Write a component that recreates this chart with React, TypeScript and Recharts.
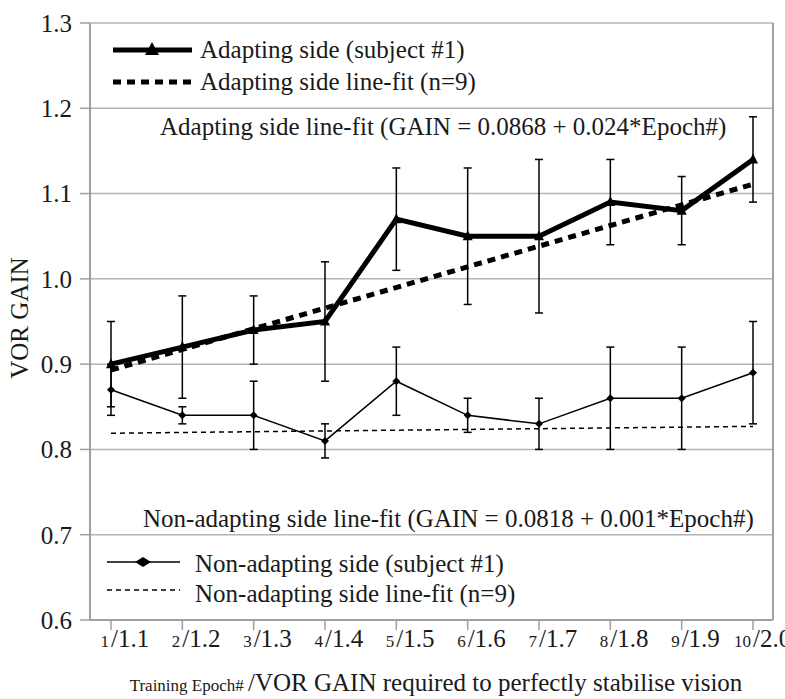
import React from "react";
import { CartesianGrid, ErrorBar, Line, LineChart, XAxis, YAxis } from "recharts";

// training epochs and the VOR gain needed to fully stabilise vision at each one
const epochs = [1, 2, 3, 4, 5, 6, 7, 8, 9, 10];
const requiredGain = ["1.1", "1.2", "1.3", "1.4", "1.5", "1.6", "1.7", "1.8", "1.9", "2.0"];

// subject #1, adapting side (mean gain and +/- error)
const adaptGain = [0.9, 0.92, 0.94, 0.95, 1.07, 1.05, 1.05, 1.09, 1.08, 1.14];
const adaptErr = [0.05, 0.06, 0.04, 0.07, 0.06, 0.08, 0.09, 0.05, 0.04, 0.05];

// subject #1, non-adapting side
const nonGain = [0.87, 0.84, 0.84, 0.81, 0.88, 0.84, 0.83, 0.86, 0.86, 0.89];
const nonErr = [0.03, 0.01, 0.04, 0.02, 0.04, 0.02, 0.03, 0.06, 0.06, 0.06];

// group line-fits (n=9), end points at epoch 1 and 10
const fitEpochs = [1, 10];
const adaptFit = [0.893, 1.111];
const nonFit = [0.819, 0.827];

const yTicks = [0.6, 0.7, 0.8, 0.9, 1.0, 1.1, 1.2, 1.3];

const FONT = '"Liberation Serif", "Times New Roman", serif';
const INK = "#1a1a1a";
const GRID = "#b4b4b4";

const adaptData = epochs.map((e, i) => ({ epoch: e, gain: adaptGain[i], err: adaptErr[i] }));
const nonData = epochs.map((e, i) => ({ epoch: e, gain: nonGain[i], err: nonErr[i] }));
const adaptFitData = fitEpochs.map((e, i) => ({ epoch: e, gain: adaptFit[i] }));
const nonFitData = fitEpochs.map((e, i) => ({ epoch: e, gain: nonFit[i] }));

const TriangleDot = (props: any) => {
  const { cx, cy, index } = props;
  if (cx == null || cy == null) return <g key={index} />;
  return <path key={index} d={`M${cx},${cy - 6} L${cx + 5},${cy + 4} L${cx - 5},${cy + 4} Z`} fill="#000" />;
};

const DiamondDot = (props: any) => {
  const { cx, cy, index } = props;
  if (cx == null || cy == null) return <g key={index} />;
  return <path key={index} d={`M${cx},${cy - 4} L${cx + 4},${cy} L${cx},${cy + 4} L${cx - 4},${cy} Z`} fill="#000" />;
};

const EpochTick = (props: any) => {
  const { x, y, payload } = props;
  const i = epochs.indexOf(payload.value);
  return (
    <g fontFamily={FONT} fill={INK}>
      <text x={x - 2} y={y + 15} textAnchor="end" fontSize={17} fill={INK}>
        {payload.value}
      </text>
      <text x={x} y={y + 15} textAnchor="start" fontSize={25} fill={INK}>
        {"/" + requiredGain[i]}
      </text>
    </g>
  );
};

const Overlay = () => (
  <svg width={785} height={699} style={{ position: "absolute", left: 0, top: 0, pointerEvents: "none" }}>
    <g fontFamily={FONT} fill={INK} fontSize={25}>
      {/* adapting side legend */}
      <line x1={113} y1={50} x2={192} y2={50} stroke="#000" strokeWidth={5} />
      <path d="M152,42 L159,55 L145,55 Z" fill="#000" />
      <text x={200} y={58}>Adapting side (subject #1)</text>
      <line x1={113} y1={82} x2={192} y2={82} stroke="#000" strokeWidth={5} strokeDasharray="8 6" />
      <text x={200} y={90}>Adapting side line-fit (n=9)</text>
      <text x={160} y={135}>Adapting side line-fit (GAIN = 0.0868 + 0.024*Epoch#)</text>

      {/* non-adapting side legend */}
      <text x={143} y={527}>Non-adapting side line-fit (GAIN = 0.0818 + 0.001*Epoch#)</text>
      <line x1={107} y1={562} x2={180} y2={562} stroke="#000" strokeWidth={1.5} />
      <path d="M143,557 L151,562 L143,567 L135,562 Z" fill="#000" />
      <text x={195} y={572}>Non-adapting side (subject #1)</text>
      <line x1={107} y1={590} x2={180} y2={590} stroke="#000" strokeWidth={1.5} strokeDasharray="5 4" />
      <text x={195} y={602}>Non-adapting side line-fit (n=9)</text>

      {/* axis titles */}
      <text x={19} y={318} fontSize={25} textAnchor="middle" transform="rotate(-90 19 318)" dy="0.35em">
        VOR GAIN
      </text>
      <text x={436} y={691} textAnchor="middle">
        <tspan fontSize={17}>Training Epoch# </tspan>
        <tspan>/VOR GAIN required to perfectly stabilise vision</tspan>
      </text>
    </g>
  </svg>
);

export default function App() {
  return (
    <div style={{ position: "absolute", left: 0, top: 0, width: 785, height: 699, background: "#fff" }}>
      <LineChart width={785} height={699} margin={{ top: 23, right: 11, bottom: 0, left: 0 }}>
        <CartesianGrid vertical={false} stroke={GRID} strokeWidth={1.5} />
        <XAxis
          dataKey="epoch"
          type="number"
          domain={[1, 10]}
          ticks={epochs}
          padding={{ left: 21, right: 20 }}
          height={79}
          tickSize={10}
          axisLine={{ stroke: "#a0a0a0", strokeWidth: 2 }}
          tickLine={{ stroke: "#a0a0a0", strokeWidth: 1.5 }}
          tick={<EpochTick />}
          allowDuplicatedCategory={false}
        />
        <YAxis
          type="number"
          domain={[0.6, 1.3]}
          ticks={yTicks}
          width={90}
          tickSize={10}
          tickMargin={8}
          axisLine={{ stroke: "#a0a0a0", strokeWidth: 2 }}
          tickLine={{ stroke: "#a0a0a0", strokeWidth: 1.5 }}
          tickFormatter={(v: number) => v.toFixed(1)}
          tick={{ fontFamily: FONT, fontSize: 25, fill: INK }}
        />
        <YAxis
          yAxisId="frame"
          orientation="right"
          domain={[0, 1]}
          width={1}
          tick={false}
          tickLine={false}
          axisLine={{ stroke: "#a0a0a0", strokeWidth: 2 }}
        />
        <Line
          data={nonFitData}
          dataKey="gain"
          stroke="#000"
          strokeWidth={1.5}
          strokeDasharray="5 4"
          dot={false}
          activeDot={false}
          isAnimationActive={false}
        />
        <Line
          data={nonData}
          dataKey="gain"
          stroke="#000"
          strokeWidth={1.5}
          dot={<DiamondDot />}
          activeDot={false}
          isAnimationActive={false}
        >
          <ErrorBar dataKey="err" direction="y" width={4} stroke="#000" strokeWidth={1.5} isAnimationActive={false} />
        </Line>
        <Line
          data={adaptFitData}
          dataKey="gain"
          stroke="#000"
          strokeWidth={5}
          strokeDasharray="8 6"
          dot={false}
          activeDot={false}
          isAnimationActive={false}
        />
        <Line
          data={adaptData}
          dataKey="gain"
          stroke="#000"
          strokeWidth={5}
          dot={<TriangleDot />}
          activeDot={false}
          isAnimationActive={false}
        >
          <ErrorBar dataKey="err" direction="y" width={4} stroke="#000" strokeWidth={1.5} isAnimationActive={false} />
        </Line>
      </LineChart>
      <Overlay />
    </div>
  );
}
